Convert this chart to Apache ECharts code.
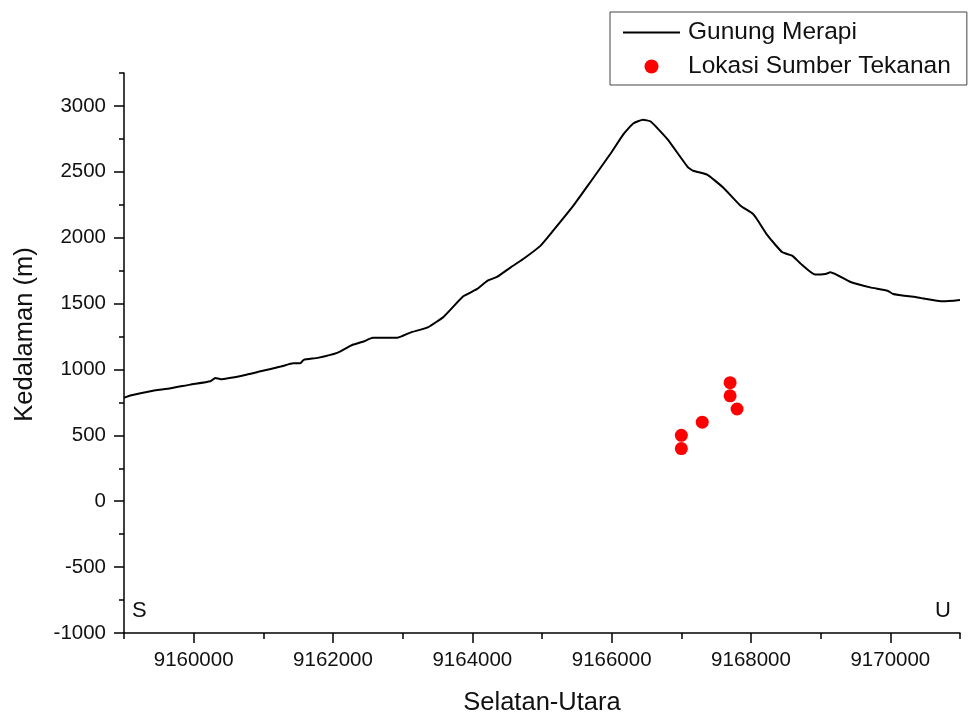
<!DOCTYPE html>
<html>
<head>
<meta charset="utf-8">
<title>Gunung Merapi</title>
<script src="https://cdn.jsdelivr.net/npm/echarts@6/dist/echarts.min.js"></script>
<style>
  html, body { margin: 0; padding: 0; background: #fff; }
  #chart { width: 971px; height: 716px; }
</style>
</head>
<body>
<div id="chart"></div>
<script>
// Elevation profile along the south-north section (northing, metres)
const profileX = [9159000, 9159090, 9159380, 9159670, 9159950, 9160240, 9160310, 9160390, 9160720, 9160960,
  9161250, 9161430, 9161530, 9161580, 9161780, 9162060, 9162250, 9162290, 9162440, 9162570,
  9162920, 9163110, 9163360, 9163590, 9163870, 9164070, 9164220, 9164360, 9164550, 9164730,
  9164980, 9165160, 9165450, 9165690, 9165980, 9166170, 9166310, 9166450, 9166560, 9166800,
  9167090, 9167170, 9167370, 9167600, 9167850, 9168030, 9168100, 9168240, 9168450, 9168590,
  9168710, 9168920, 9169070, 9169140, 9169420, 9169710, 9169960, 9170040, 9170390, 9170760,
  9171000];
const profileY = [785, 802, 835, 857, 885, 911, 936, 926, 956, 986,
  1022, 1047, 1047, 1073, 1088, 1126, 1179, 1189, 1212, 1240,
  1240, 1280, 1320, 1401, 1555, 1611, 1674, 1704, 1775, 1838,
  1940, 2053, 2243, 2419, 2635, 2786, 2867, 2895, 2882, 2748,
  2538, 2508, 2478, 2381, 2243, 2180, 2129, 2015, 1889, 1864,
  1805, 1720, 1725, 1737, 1666, 1623, 1598, 1573, 1547, 1517,
  1528];

// Pressure source locations
const sourceX = [9167000, 9167000, 9167300, 9167700, 9167700, 9167800];
const sourceY = [400, 500, 600, 800, 900, 700];

// Axis ticks
const xTickValues = [9160000, 9162000, 9164000, 9166000, 9168000, 9170000];
const yTickValues = [-1000, -500, 0, 500, 1000, 1500, 2000, 2500, 3000];

const seriesNames = ['Gunung Merapi', 'Lokasi Sumber Tekanan'];
const axisNames = { x: 'Selatan-Utara', y: 'Kedalaman (m)' };
const endLabels = { left: 'S', right: 'U' };

const FONT = '"Liberation Sans", Arial, sans-serif';
const X_MIN = 9159000, X_MAX = 9171000, Y_MIN = -1000, Y_MAX = 3250;
const plain = v => String(v);

const chart = echarts.init(document.getElementById('chart'), null, { renderer: 'canvas' });

const majorX = {
  type: 'value', min: X_MIN, max: X_MAX, position: 'bottom',
  name: axisNames.x, nameLocation: 'middle', nameGap: 57,
  nameTextStyle: { fontFamily: FONT, fontSize: 25.5, color: '#111' },
  axisLine: { show: true, onZero: false, lineStyle: { color: '#000', width: 1.5 } },
  axisTick: { show: true, length: 10, customValues: xTickValues, lineStyle: { color: '#000', width: 1.5 } },
  axisLabel: { customValues: xTickValues, formatter: plain, margin: 17, fontFamily: FONT, fontSize: 20.5, color: '#111' },
  splitLine: { show: false }
};
const minorX = {
  type: 'value', min: X_MIN, max: X_MAX, interval: 1000, position: 'bottom',
  axisLine: { show: false, onZero: false },
  axisTick: { show: true, length: 6, lineStyle: { color: '#000', width: 1.5 } },
  axisLabel: { show: false },
  splitLine: { show: false }
};
const majorY = {
  type: 'value', min: Y_MIN, max: Y_MAX, position: 'left',
  name: axisNames.y, nameLocation: 'middle', nameGap: 86,
  nameTextStyle: { fontFamily: FONT, fontSize: 25.5, color: '#111', padding: [0, 0, 0, 37] },
  axisLine: { show: true, onZero: false, lineStyle: { color: '#000', width: 1.5 } },
  axisTick: { show: true, length: 10, customValues: yTickValues, lineStyle: { color: '#000', width: 1.5 } },
  axisLabel: { customValues: yTickValues, formatter: plain, margin: 18, fontFamily: FONT, fontSize: 20.5, color: '#111' },
  splitLine: { show: false }
};
const minorY = {
  type: 'value', min: Y_MIN, max: Y_MAX, interval: 250, position: 'left',
  axisLine: { show: false, onZero: false },
  axisTick: { show: true, length: 5, lineStyle: { color: '#000', width: 1.5 } },
  axisLabel: { show: false },
  splitLine: { show: false }
};

chart.setOption({
  animation: false,
  backgroundColor: '#fff',
  grid: { left: 124, right: 11, top: 73, bottom: 83, containLabel: false, outerBoundsMode: 'none' },
  xAxis: [majorX, minorX],
  yAxis: [majorY, minorY],
  legend: {
    data: [
      { name: seriesNames[0], itemStyle: { color: 'rgba(0,0,0,0)', opacity: 0 } },
      { name: seriesNames[1], icon: 'circle' }
    ],
    orient: 'vertical', left: 610, top: 12,
    itemWidth: 57, itemHeight: 14, itemGap: 9,
    padding: [8, 16, 6, 12],
    borderColor: '#444', borderWidth: 1, borderRadius: 0,
    textStyle: { fontFamily: FONT, fontSize: 24.5, lineHeight: 24, color: '#111', padding: [0, 0, 0, 3] }
  },
  graphic: [
    { type: 'text', left: 132, top: 600, style: { text: endLabels.left, font: '22px ' + FONT, fill: '#111' } },
    { type: 'text', left: 935, top: 600, style: { text: endLabels.right, font: '22px ' + FONT, fill: '#111' } }
  ],
  series: [
    {
      name: seriesNames[0], type: 'line', xAxisIndex: 0, yAxisIndex: 0,
      data: profileX.map((x, i) => [x, profileY[i]]),
      symbol: 'none', smooth: 0.15,
      lineStyle: { color: '#000', width: 2 },
      itemStyle: { color: '#000' },
      z: 3
    },
    {
      name: seriesNames[1], type: 'scatter', xAxisIndex: 0, yAxisIndex: 0,
      data: sourceX.map((x, i) => [x, sourceY[i]]),
      symbol: 'circle', symbolSize: 13, symbolKeepAspect: true,
      itemStyle: { color: '#ff0000', opacity: 1 },
      z: 4
    }
  ]
});
</script>
</body>
</html>
